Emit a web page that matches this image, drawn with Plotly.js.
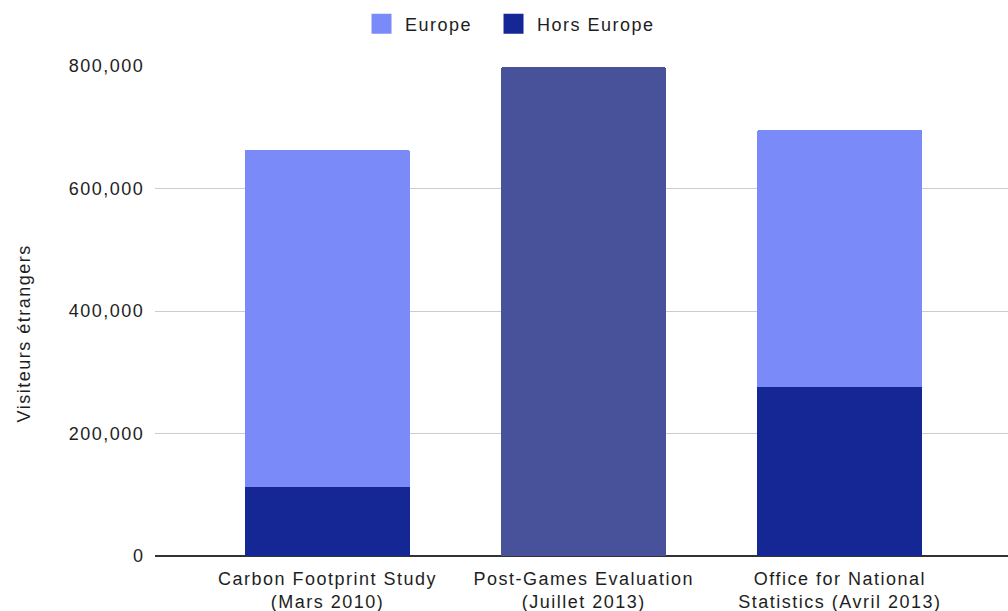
<!DOCTYPE html>
<html>
<head>
<meta charset="utf-8">
<script src="https://cdn.plot.ly/plotly-3.0.1.min.js"></script>
<style>
  html, body { margin: 0; padding: 0; background: #fff; }
  #chart { width: 1008px; height: 611px; }
  svg text { letter-spacing: 1.5px; }
</style>
</head>
<body>
<div id="chart"></div>
<script>
// Visiteurs étrangers par source
const categories = [
  'Carbon Footprint Study<br>(Mars 2010)',
  'Post-Games Evaluation<br>(Juillet 2013)',
  'Office for National<br>Statistics (Avril 2013)'
];
const horsEurope = [113000, null, 276000];
const europe = [550000, null, 420000];
const totalOnly = [null, 798000, null];
const yTicks = [0, 200000, 400000, 600000, 800000];
const yTickText = ['0', '200,000', '400,000', '600,000', '800,000'];

const COL_EUROPE = '#7a8bf9';
const COL_HORS = '#142794';
const COL_TOTAL = '#48529b';
const FONT = 'Liberation Sans, Arial, sans-serif';
const TEXT_COL = '#1e1e1e';

const traces = [
  { type: 'bar', name: 'Hors Europe', x: categories, y: horsEurope,
    marker: { color: COL_HORS }, showlegend: false, hoverinfo: 'skip' },
  { type: 'bar', name: 'Europe', x: categories, y: europe,
    marker: { color: COL_EUROPE }, showlegend: false, hoverinfo: 'skip' },
  { type: 'bar', name: 'Total', x: categories, y: totalOnly,
    marker: { color: COL_TOTAL }, showlegend: false, hoverinfo: 'skip' },
  // legend entries with square swatches
  { type: 'scatter', mode: 'markers', name: 'Europe', x: [null], y: [null], legendwidth: 80,
    marker: { symbol: 'square', size: 16, color: COL_EUROPE, line: { color: COL_EUROPE, width: 4 } } },
  { type: 'scatter', mode: 'markers', name: 'Hors Europe', x: [null], y: [null],
    marker: { symbol: 'square', size: 16, color: COL_HORS, line: { color: COL_HORS, width: 4 } } }
];

const layout = {
  width: 1008, height: 611,
  margin: { l: 155, r: 0, t: 66, b: 55, pad: 0 },
  paper_bgcolor: '#ffffff', plot_bgcolor: '#ffffff',
  font: { family: FONT, size: 18, color: TEXT_COL },
  barmode: 'stack',
  bargap: 0.356,
  barcornerradius: 2,
  showlegend: true,
  legend: {
    orientation: 'h', x: 0.238, xanchor: 'left', y: 1.0857, yanchor: 'middle',
    font: { family: FONT, size: 18, color: TEXT_COL },
    itemwidth: 37, traceorder: 'normal', bgcolor: 'rgba(0,0,0,0)'
  },
  xaxis: {
    type: 'category', range: [-0.673, 2.656], fixedrange: true,
    showgrid: false, zeroline: false, showline: false,
    ticks: 'outside', ticklen: 6, tickcolor: 'rgba(0,0,0,0)',
    tickfont: { family: FONT, size: 18, color: TEXT_COL }
  },
  yaxis: {
    range: [0, 800000], fixedrange: true,
    tickvals: yTicks, ticktext: yTickText,
    showgrid: true, gridcolor: '#cccccc', gridwidth: 1,
    zeroline: true, zerolinecolor: '#333333', zerolinewidth: 1.5,
    showline: false,
    ticks: 'outside', ticklen: 6, tickcolor: 'rgba(0,0,0,0)',
    tickfont: { family: FONT, size: 18, color: TEXT_COL }
  },
  annotations: [{
    text: 'Visiteurs étrangers', textangle: -90,
    xref: 'paper', yref: 'paper', x: (23 - 155) / 853, y: (556 - 333.5) / 490,
    xanchor: 'center', yanchor: 'middle', showarrow: false,
    font: { family: FONT, size: 18, color: TEXT_COL }
  }]
};

Plotly.newPlot('chart', traces, layout, { displayModeBar: false, staticPlot: true });
</script>
</body>
</html>
